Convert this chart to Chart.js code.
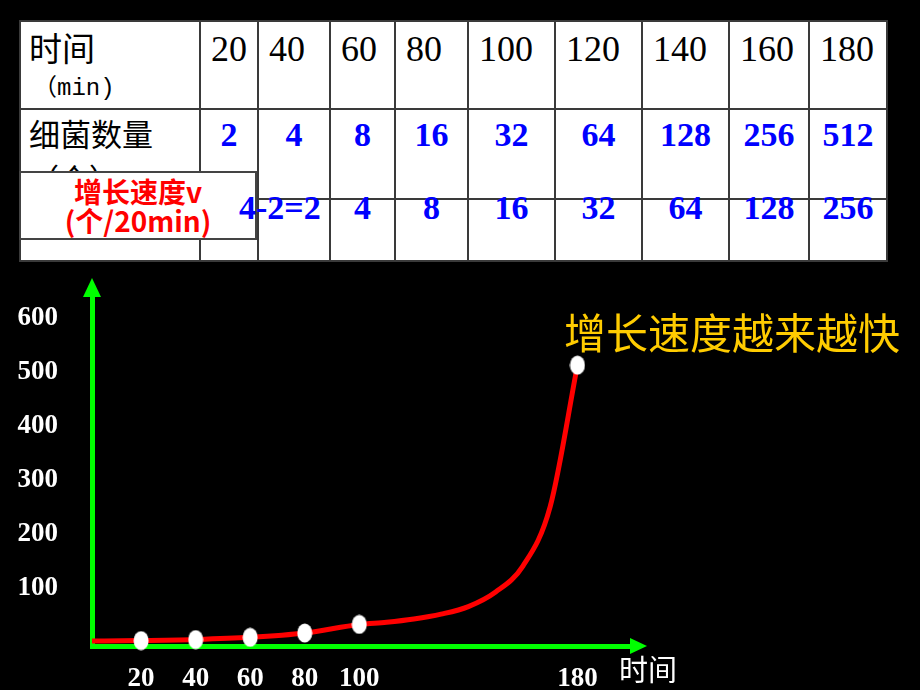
<!DOCTYPE html>
<html>
<head>
<meta charset="utf-8">
<script src="https://cdn.jsdelivr.net/npm/chart.js"></script>
<style>
  html, body { margin: 0; padding: 0; width: 920px; height: 690px; overflow: hidden; background: #000; }
  #chart { position: absolute; left: 0; top: 0; }
  #tbl { position: absolute; left: 19px; top: 20px; width: 867px; border-collapse: collapse; table-layout: fixed; background: #fff; }
  #tbl td { border: 2px solid #3a3a3a; padding: 0; vertical-align: top; overflow: visible; white-space: nowrap; }
  #tbl td.cn { font-family: "Noto Sans CJK SC", sans-serif; color: #000; padding-left: 8px; }
  #tbl td.time { font: 36px/36px "Liberation Serif", "Times New Roman", serif; padding: 9px 0 0 10px; color: #000; }
  #tbl td.num { font: bold 34px/34px "Liberation Serif", "Times New Roman", serif; color: #0000ff; text-align: center; }
  #tbl td.count { padding-top: 8px; }
  #tbl td.speed span { position: relative; top: -9px; z-index: 2; }
  #tbl td.speed span.wide { left: -20px; }
  #speedBox { position: absolute; z-index: 1; left: 19px; top: 171px; width: 238px; height: 69px; box-sizing: border-box;
    border: 2px solid #444; background: #fff; color: #ff0000; text-align: center;
    font: bold 28px/29px "Noto Sans CJK SC", sans-serif; padding-top: 4px; }
  #note { position: absolute; left: 564px; top: 310px; color: #ffcc00; font: 42px/42px "Noto Sans CJK SC", sans-serif; white-space: nowrap; }
  #xname { position: absolute; left: 619px; top: 654px; color: #fff; font: 29px/29px "Noto Sans CJK SC", sans-serif; }
</style>
</head>
<body>
<canvas id="chart" width="920" height="712"></canvas>
<table id="tbl">
  <colgroup>
    <col style="width:180px"><col style="width:58px"><col style="width:72px"><col style="width:65px"><col style="width:73px">
    <col style="width:87px"><col style="width:87px"><col style="width:87px"><col style="width:80px"><col style="width:78px">
  </colgroup>
  <tr id="rowTime" style="height:88px"></tr>
  <tr id="rowCount" style="height:90px"></tr>
  <tr id="rowSpeed" style="height:62px"></tr>
</table>
<div id="speedBox">增长速度v<br>(个/20min)</div>
<div id="note">增长速度越来越快</div>
<div id="xname">时间</div>

<script>
// table values
const times = [20, 40, 60, 80, 100, 120, 140, 160, 180];
const counts = [2, 4, 8, 16, 32, 64, 128, 256, 512];
const speeds = [2, 4, 8, 16, 32, 64, 128, 256]; // per 20 min, from 40 min on

// graph: marked points, and the hand-drawn curve
// (the drawing is flatter than the real counts between 100 and 180)
const markedTimes = [20, 40, 60, 80, 100, 180];
const curveTimes = [0, 20, 40, 60, 80, 100, 110, 120, 130, 140, 150, 160, 170, 180];
const curveCounts = [1, 2, 4, 8, 16, 32, 36, 42, 51, 65, 92, 140, 250, 512];

const xTicks = [20, 40, 60, 80, 100, 180];
const yTicks = [100, 200, 300, 400, 500, 600];

const green = "#00ff00";

// ---- table ----
function cell(row, cls, html) {
    const td = document.createElement("td");
    if (cls) td.className = cls;
    td.innerHTML = html;
    row.appendChild(td);
}

const rowTime = document.getElementById("rowTime");
cell(rowTime, "cn", '<div style="font-size:33px;line-height:33px;padding-top:9px">时间</div>' +
    '<div style="font:24px/24px \'Liberation Mono\',\'Noto Sans CJK SC\',monospace;margin-top:13px;padding-left:4px">（min)</div>');
times.forEach(t => cell(rowTime, "time", String(t)));

const rowCount = document.getElementById("rowCount");
cell(rowCount, "cn", '<div style="font-size:31px;line-height:31px;padding-top:7px">细菌数量</div>' +
    '<div style="font-size:30px;line-height:30px;margin-top:14px">（个）</div>');
counts.forEach(c => cell(rowCount, "num count", String(c)));

const rowSpeed = document.getElementById("rowSpeed");
cell(rowSpeed, "", "");
cell(rowSpeed, "", "");
speeds.forEach((s, i) => {
    // first one is written out as a subtraction
    const html = i === 0
        ? '<span class="wide">' + counts[1] + "-" + counts[0] + "=" + s + "</span>"
        : "<span>" + s + "</span>";
    cell(rowSpeed, "num speed", html);
});

// ---- graph ----
const dot = document.createElement("canvas");
dot.width = 16;
dot.height = 20;
const dctx = dot.getContext("2d");
dctx.fillStyle = "#ffffff";
dctx.beginPath();
dctx.ellipse(8, 10, 7.5, 9.5, 0, 0, Math.PI * 2);
dctx.fill();

const axisArrows = {
    id: "axisArrows",
    afterDraw(chart) {
        const { ctx, chartArea: a } = chart;
        ctx.save();
        ctx.fillStyle = green;
        ctx.beginPath();
        ctx.moveTo(a.left, a.top - 18);
        ctx.lineTo(a.left - 9, a.top + 1);
        ctx.lineTo(a.left + 9, a.top + 1);
        ctx.closePath();
        ctx.fill();
        ctx.beginPath();
        ctx.moveTo(a.right + 15, a.bottom);
        ctx.lineTo(a.right - 2, a.bottom - 8);
        ctx.lineTo(a.right - 2, a.bottom + 8);
        ctx.closePath();
        ctx.fill();
        ctx.restore();
    }
};

const tickFont = { family: '"Liberation Serif", "Times New Roman", serif', size: 27, weight: "bold" };

new Chart(document.getElementById("chart"), {
    type: "line",
    data: {
        datasets: [
            {
                label: "细菌数量",
                data: markedTimes.map(t => ({ x: t, y: counts[times.indexOf(t)] })),
                showLine: false,
                pointStyle: dot,
                pointRadius: 9,
                clip: false,
                order: 0
            },
            {
                label: "曲线",
                data: curveTimes.map((t, i) => ({ x: t, y: curveCounts[i] })),
                borderColor: "#ff0000",
                borderWidth: 5,
                pointRadius: 0,
                cubicInterpolationMode: "monotone",
                order: 1
            }
        ]
    },
    options: {
        responsive: false,
        animation: false,
        layout: { padding: { top: 296, right: 288, bottom: 0, left: 0 } },
        plugins: {
            legend: { display: false },
            tooltip: { enabled: false }
        },
        scales: {
            x: {
                type: "linear",
                min: 2,
                max: 200,
                grid: { display: false, drawTicks: false },
                border: { display: true, color: green, width: 5 },
                afterBuildTicks: scale => { scale.ticks = xTicks.map(v => ({ value: v })); },
                afterFit: scale => { scale.height = 66; },
                ticks: { color: "#ffffff", font: tickFont, padding: 17, autoSkip: false, maxRotation: 0 }
            },
            y: {
                min: -8,
                max: 640,
                grid: { display: false, drawTicks: false },
                border: { display: true, color: green, width: 5 },
                afterBuildTicks: scale => { scale.ticks = yTicks.map(v => ({ value: v })); },
                afterFit: scale => { scale.width = 92; },
                ticks: { color: "#ffffff", font: tickFont, padding: 34 }
            }
        }
    },
    plugins: [axisArrows]
});
</script>
</body>
</html>
